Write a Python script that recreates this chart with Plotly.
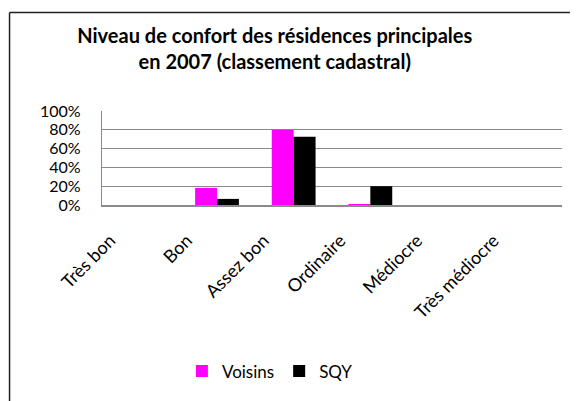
import plotly.graph_objects as go

categories = ["Très bon", "Bon", "Assez bon", "Ordinaire", "Médiocre", "Très médiocre"]
voisins = [0.0, 0.182, 0.80, 0.01, 0.0, 0.0]
sqy = [0.0, 0.065, 0.725, 0.20, 0.0, 0.0]
y_ticks = [0, 0.2, 0.4, 0.6, 0.8, 1.0]
y_tick_labels = ["0%", "20%", "40%", "60%", "80%", "100%"]

FONT = "Lato"
GRID = "#8a8a8a"

fig = go.Figure()
fig.add_trace(go.Bar(name="Voisins", x=categories, y=voisins,
                     marker=dict(color="#FF00FF", line=dict(width=0))))
fig.add_trace(go.Bar(name="SQY", x=categories, y=sqy,
                     marker=dict(color="#000000", line=dict(width=0))))

# page body has an 8px margin, so the figure is 8px smaller and offset
fig.update_layout(
    width=570, height=393,
    margin=dict(l=94, r=16, t=103, b=194),
    paper_bgcolor="white", plot_bgcolor="white",
    barmode="group", bargap=0.4286, bargroupgap=0,
    font=dict(family=FONT, size=17, color="black"),
    title=dict(text="<b>Niveau de confort des résidences principales<br>en 2007 (classement cadastral)</b>",
               x=0.468, xanchor="center", xref="container",
               y=0.912, yanchor="middle", yref="container",
               font=dict(family=FONT, size=20, color="black")),
    legend=dict(orientation="h", x=0.365, xanchor="center", y=-1.77, yanchor="middle",
                font=dict(family=FONT, size=17), itemwidth=30, traceorder="normal"),
    showlegend=True,
)
fig.update_yaxes(range=[0, 1], tickvals=y_ticks, ticktext=y_tick_labels,
                 showgrid=True, gridcolor=GRID, gridwidth=1.3,
                 showline=True, linecolor=GRID, linewidth=1.3,
                 zeroline=False, ticks="", ticklabelstandoff=17,
                 tickfont=dict(family=FONT, size=16))
fig.update_xaxes(showline=True, linecolor=GRID, linewidth=2, mirror=False,
                 tickangle=-45, ticks="", tickfont=dict(family=FONT, size=18),
                 ticklabelstandoff=16, ticklabelshift=-30)

# chart frame (top and left edges visible)
fig.add_shape(type="line", xref="paper", yref="paper", x0=-0.201, x1=1.05, y0=2.048, y1=2.048,
              line=dict(color="#222222", width=1.5))
fig.add_shape(type="line", xref="paper", yref="paper", x0=-0.201, x1=-0.201, y0=2.048, y1=-2.1,
              line=dict(color="#222222", width=1.5))

fig.write_html("out.html")
